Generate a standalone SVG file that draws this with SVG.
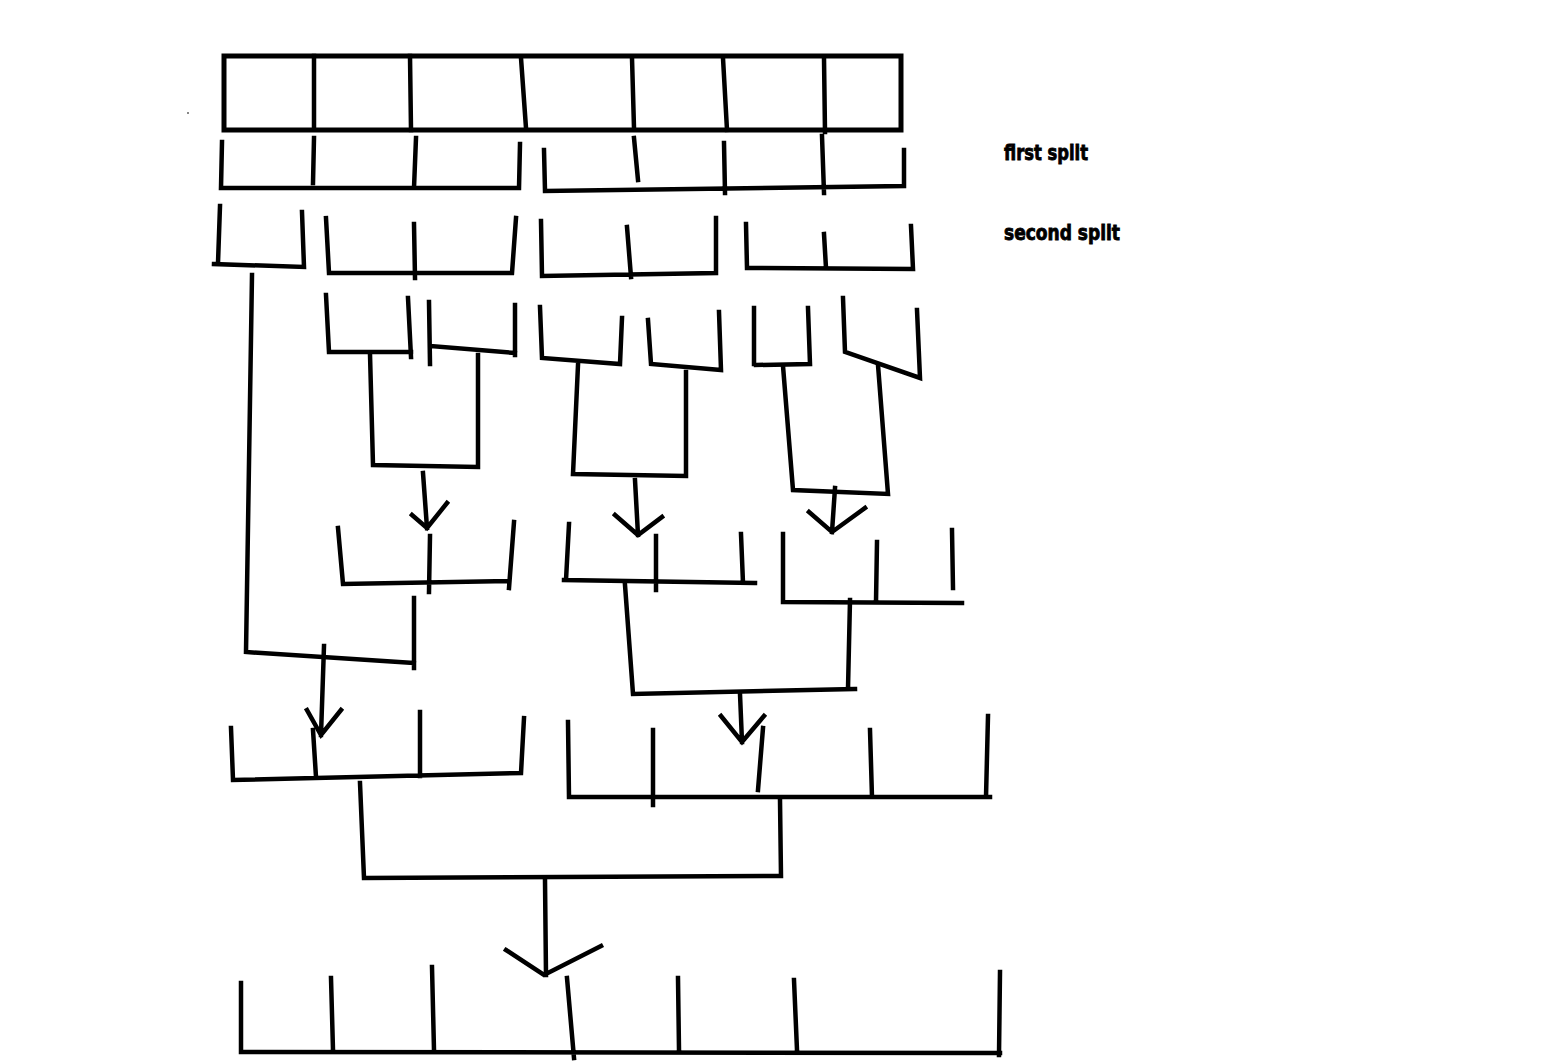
<svg xmlns="http://www.w3.org/2000/svg" width="1559" height="1063" viewBox="0 0 1559 1063">
<style>
.s{fill:none;stroke:#000;stroke-width:4.5;stroke-linecap:square;stroke-linejoin:miter}
.t{font-family:"DejaVu Sans Condensed","DejaVu Sans","Liberation Sans",sans-serif;font-weight:bold;font-size:21px;fill:#000;stroke:#000;stroke-width:0.8}
</style>
<rect width="1559" height="1063" fill="#fff"/>
<rect x="187" y="112" width="2" height="2" fill="#888"/>
<g id="array">
<rect class="s" x="224" y="56" width="677" height="74" style="stroke-width:5"/>
<path class="s" d="M314,56L314,128M410,56L411,130M521,58L526,128M632,58L634,128M723,58L727,130M824,58L825,132"/>
</g>
<g id="split1-left"><path class="s" d="M222,142L221,188L519,188L520,144M314,138L313,183M416,138L414,188"/></g>
<g id="split1-right"><path class="s" d="M544,150L545,191L904,186L904,150M634,138L638,180M724,143L725,193M822,136L824,193"/></g>
<g id="split2-a"><path class="s" d="M220,206L218,263M214,264L304,267L302,212"/></g>
<g id="split2-b"><path class="s" d="M326,218L329,273L512,273L516,218M414,224L415,278"/></g>
<g id="split2-c"><path class="s" d="M541,221L542,276L716,273L716,218M627,227L631,277"/></g>
<g id="split2-d"><path class="s" d="M746,224L747,268L913,269L911,226M824,234L826,268"/></g>
<g id="leaf-a"><path class="s" d="M326,295L329,352L411,352M408,298L411,357"/></g>
<g id="leaf-b"><path class="s" d="M429,302L430,364M430,346L515,353M515,305L515,355"/></g>
<g id="leaf-c"><path class="s" d="M540,307L542,358L620,364L622,318"/></g>
<g id="leaf-d"><path class="s" d="M648,320L651,364L721,370L719,312"/></g>
<g id="leaf-e"><path class="s" d="M754,308L754,364M756,365L810,364L808,308"/></g>
<g id="leaf-f"><path class="s" d="M843,298L845,352L920,378L917,310"/></g>
<g id="merge1-a"><path class="s" d="M338,528L343,584L509,581M514,522L509,588M430,536L429,592"/></g>
<g id="merge1-b"><path class="s" d="M569,524L566,580M564,580L755,583M656,536L656,590M741,534L743,583"/></g>
<g id="merge1-c"><path class="s" d="M783,534L783,602L962,603M877,542L876,602M952,530L953,588"/></g>
<g id="merge2-a"><path class="s" d="M231,728L233,780L521,773L524,718M313,730L316,777M420,712L420,776"/></g>
<g id="merge2-b"><path class="s" d="M568,722L569,797L990,797M653,730L653,805M763,728L758,790M870,730L872,797M988,716L986,797"/></g>
<g id="sorted"><path class="s" d="M241,983L241,1052L1000,1053M1000,972L999,1055M331,978L333,1050M432,967L434,1050M567,978L574,1058M678,978L679,1050M794,980L797,1050"/></g>
<g id="connectors">
<path class="s" d="M370,354L373,465L478,467L478,355"/>
<path class="s" d="M423,473L427,528M412,515L427,528L447,503"/>
<path class="s" d="M578,365L573,474L686,476L686,372"/>
<path class="s" d="M635,480L638,535M615,515L638,535L662,517"/>
<path class="s" d="M783,366L793,490L888,494L878,365"/>
<path class="s" d="M835,488L832,532M809,512L832,532L865,508"/>
<path class="s" d="M252,275L246,652L414,663M414,598L414,668"/>
<path class="s" d="M324,646L321,735M307,710L321,735L341,710"/>
<path class="s" d="M625,585L633,694L855,689M850,600L848,689"/>
<path class="s" d="M740,694L742,742M721,716L742,742L764,716"/>
<path class="s" d="M360,783L364,878L781,876L780,800"/>
<path class="s" d="M545,880L546,975M506,950L544,975L601,946"/>
</g>
<text class="t" x="1004" y="160" textLength="84" lengthAdjust="spacingAndGlyphs">first split</text>
<text class="t" x="1004" y="240" textLength="116" lengthAdjust="spacingAndGlyphs">second split</text>
</svg>
